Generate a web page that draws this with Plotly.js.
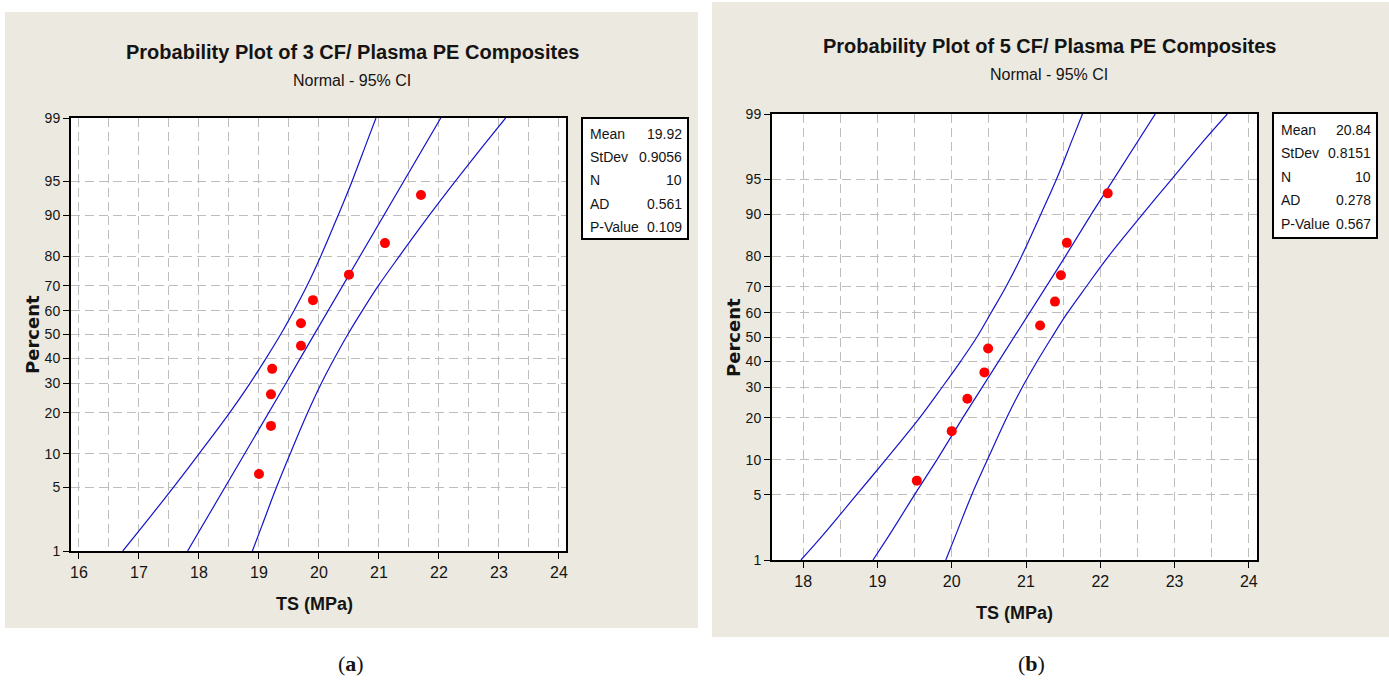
<!DOCTYPE html>
<html>
<head>
<meta charset="utf-8">
<script src="https://cdn.plot.ly/plotly-3.0.1.min.js"></script>
<style>
html,body{margin:0;padding:0;background:#fff;}
#chart{width:1389px;height:680px;}
</style>
</head>
<body>
<div id="chart"></div>
<script>
// ---------- data ----------
const pctTicks = [1, 5, 10, 20, 30, 40, 50, 60, 70, 80, 90, 95, 99];
const pointPct = [6.7, 16.3, 26.0, 35.6, 45.2, 54.8, 64.4, 74.0, 83.7, 93.3];

const aTS = [19.0, 19.2, 19.2, 19.22, 19.7, 19.7, 19.9, 20.5, 21.1, 21.7];
const bTS = [19.53, 20.0, 20.21, 20.44, 20.49, 21.19, 21.39, 21.47, 21.55, 22.1];

const bandPct = [1, 2, 5, 10, 20, 30, 40, 50, 60, 70, 80, 90, 95, 98, 99];
const aFit   = [17.81, 18.06, 18.43, 18.76, 19.16, 19.45, 19.69, 19.92, 20.15, 20.39, 20.68, 21.08, 21.41, 21.78, 22.03];
const aLower = [16.73, 17.07, 17.57, 18.00, 18.51, 18.85, 19.12, 19.36, 19.58, 19.80, 20.03, 20.32, 20.55, 20.79, 20.95];
const aUpper = [18.89, 19.05, 19.29, 19.52, 19.81, 20.04, 20.26, 20.48, 20.72, 20.99, 21.34, 21.84, 22.27, 22.77, 23.11];
const bFit   = [18.94, 19.17, 19.50, 19.80, 20.15, 20.41, 20.63, 20.84, 21.05, 21.27, 21.53, 21.88, 22.18, 22.51, 22.74];
const bLower = [17.97, 18.28, 18.72, 19.11, 19.57, 19.87, 20.12, 20.34, 20.53, 20.73, 20.94, 21.20, 21.41, 21.62, 21.76];
const bUpper = [19.92, 20.06, 20.27, 20.48, 20.74, 20.95, 21.15, 21.35, 21.56, 21.81, 22.11, 22.57, 22.96, 23.40, 23.71];

const statLabels = ["Mean", "StDev", "N", "AD", "P-Value"];
const aStats = ["19.92", "0.9056", "10", "0.561", "0.109"];
const bStats = ["20.84", "0.8151", "10", "0.278", "0.567"];

const aTitle = "Probability Plot of 3 CF/ Plasma PE Composites";
const bTitle = "Probability Plot of 5 CF/ Plasma PE Composites";
const subTitle = "Normal - 95% CI";
const xTitle = "TS (MPa)";
const yTitle = "Percent";

// ---------- normal probability scale ----------
function probit(p) {
  const a = [-3.969683028665376e+01, 2.209460984245205e+02, -2.759285104469687e+02, 1.383577518672690e+02, -3.066479806614716e+01, 2.506628277459239e+00];
  const b = [-5.447609879822406e+01, 1.615858368580409e+02, -1.556989798598866e+02, 6.680131188771972e+01, -1.328068155288572e+01];
  const c = [-7.784894002430293e-03, -3.223964580411365e-01, -2.400758277161838e+00, -2.549671010115819e+00, 4.374664141464968e+00, 2.938163982698783e+00];
  const d = [7.784695709041462e-03, 3.224671290700398e-01, 2.445134137142996e+00, 3.754408661907416e+00];
  const pl = 0.02425, ph = 1 - pl;
  let q, r;
  if (p < pl) {
    q = Math.sqrt(-2 * Math.log(p));
    return (((((c[0]*q+c[1])*q+c[2])*q+c[3])*q+c[4])*q+c[5]) / ((((d[0]*q+d[1])*q+d[2])*q+d[3])*q+1);
  } else if (p <= ph) {
    q = p - 0.5; r = q*q;
    return (((((a[0]*r+a[1])*r+a[2])*r+a[3])*r+a[4])*r+a[5])*q / (((((b[0]*r+b[1])*r+b[2])*r+b[3])*r+b[4])*r+1);
  } else {
    q = Math.sqrt(-2 * Math.log(1 - p));
    return -(((((c[0]*q+c[1])*q+c[2])*q+c[3])*q+c[4])*q+c[5]) / ((((d[0]*q+d[1])*q+d[2])*q+d[3])*q+1);
  }
}
const z = arr => arr.map(p => probit(p / 100));

// ---------- geometry helpers ----------
const W = 1389, H = 680;
const px = x => x / W;
const py = y => 1 - y / H;

const BLUE = '#1414cc';
const RED = '#ff0000';
const GRID = '#bdbdbd';
const BEIGE = '#ece9e0';
const FONT = 'Liberation Sans, Arial, sans-serif';
const TXT = '#141414';

function lineTrace(x, y, xa, ya, spline) {
  return {x: x, y: z(y), xaxis: xa, yaxis: ya, mode: 'lines', type: 'scatter',
    line: {color: BLUE, width: 1.2, shape: spline ? 'spline' : 'linear', smoothing: 1},
    hoverinfo: 'skip', showlegend: false};
}
function pointTrace(x, xa, ya) {
  return {x: x, y: z(pointPct), xaxis: xa, yaxis: ya, mode: 'markers', type: 'scatter',
    marker: {color: RED, size: 10, line: {width: 0}}, showlegend: false};
}

const data = [
  lineTrace(aLower, bandPct, 'x', 'y', true),
  lineTrace(aFit, bandPct, 'x', 'y', false),
  lineTrace(aUpper, bandPct, 'x', 'y', true),
  pointTrace(aTS, 'x', 'y'),
  lineTrace(bLower, bandPct, 'x2', 'y2', true),
  lineTrace(bFit, bandPct, 'x2', 'y2', false),
  lineTrace(bUpper, bandPct, 'x2', 'y2', true),
  pointTrace(bTS, 'x2', 'y2')
];

const zTicks = z(pctTicks);
const zr = [probit(0.01), probit(0.99)];
const DASH = '9px,5px';

function xAxis(domain, range, anchor) {
  return {domain: domain, range: range, anchor: anchor,
    tickmode: 'linear', tick0: 0, dtick: 1,
    showgrid: true, gridcolor: GRID, griddash: DASH, gridwidth: 1,
    minor: {dtick: 0.5, tick0: 0, showgrid: true, gridcolor: GRID, griddash: DASH, gridwidth: 1, ticks: ''},
    ticks: 'outside', ticklen: 6, tickcolor: '#000', tickwidth: 1,
    showline: true, linecolor: '#000', linewidth: 2, mirror: true,
    zeroline: false, tickfont: {family: FONT, size: 16, color: TXT},
    title: {text: ''}, fixedrange: true};
}
function yAxis(domain, anchor) {
  return {domain: domain, range: zr, anchor: anchor,
    tickmode: 'array', tickvals: zTicks, ticktext: pctTicks.map(String),
    showgrid: true, gridcolor: GRID, griddash: DASH, gridwidth: 1,
    ticks: 'outside', ticklen: 6, tickcolor: '#000', tickwidth: 1,
    showline: true, linecolor: '#000', linewidth: 2, mirror: true,
    zeroline: false, tickfont: {family: FONT, size: 14, color: TXT},
    title: {text: ''}, fixedrange: true};
}

const shapes = [
  {type: 'rect', xref: 'paper', yref: 'paper', x0: px(5), x1: px(698), y0: py(628), y1: py(12), fillcolor: BEIGE, line: {width: 0}, layer: 'below'},
  {type: 'rect', xref: 'paper', yref: 'paper', x0: px(712), x1: px(1389), y0: py(637), y1: py(2), fillcolor: BEIGE, line: {width: 0}, layer: 'below'},
  {type: 'rect', xref: 'paper', yref: 'paper', x0: px(71), x1: px(566), y0: py(551), y1: py(118), fillcolor: '#fff', line: {width: 0}, layer: 'below'},
  {type: 'rect', xref: 'paper', yref: 'paper', x0: px(772), x1: px(1257), y0: py(560), y1: py(114), fillcolor: '#fff', line: {width: 0}, layer: 'below'},
  {type: 'rect', xref: 'paper', yref: 'paper', x0: px(582), x1: px(688), y0: py(239), y1: py(118), fillcolor: '#fff', line: {color: '#000', width: 2}, layer: 'above'},
  {type: 'rect', xref: 'paper', yref: 'paper', x0: px(1273), x1: px(1377), y0: py(238), y1: py(113), fillcolor: '#fff', line: {color: '#000', width: 2}, layer: 'above'}
];

function ann(text, x, y, opts) {
  return Object.assign({text: text, x: px(x), y: py(y), xref: 'paper', yref: 'paper',
    showarrow: false, xanchor: 'center', yanchor: 'middle',
    font: {family: FONT, size: 14, color: TXT}}, opts || {});
}

const annotations = [
  ann('<b>' + aTitle + '</b>', 352, 52, {font: {family: FONT, size: 20, color: TXT}}),
  ann(subTitle, 352, 80, {font: {family: FONT, size: 16, color: TXT}}),
  ann('<b>' + bTitle + '</b>', 1049, 46, {font: {family: FONT, size: 20, color: TXT}}),
  ann(subTitle, 1049, 74, {font: {family: FONT, size: 16, color: TXT}}),
  ann('<b>' + xTitle + '</b>', 314, 604, {font: {family: FONT, size: 18, color: TXT}}),
  ann('<b>' + xTitle + '</b>', 1014, 613, {font: {family: FONT, size: 18, color: TXT}}),
  ann('<b>' + yTitle + '</b>', 32, 335, {textangle: -90, font: {family: 'DejaVu Sans, sans-serif', size: 18, color: TXT}}),
  ann('<b>' + yTitle + '</b>', 733, 338, {textangle: -90, font: {family: 'DejaVu Sans, sans-serif', size: 18, color: TXT}}),
  ann('(<b>a</b>)', 351, 663, {font: {family: 'Liberation Serif, DejaVu Serif, serif', size: 22, color: TXT}}),
  ann('(<b>b</b>)', 1031, 663, {font: {family: 'Liberation Serif, DejaVu Serif, serif', size: 22, color: TXT}})
];

const aRows = [134, 157, 180, 204, 227];
const bRows = [130, 153, 177, 200, 224];
statLabels.forEach((lab, i) => {
  annotations.push(ann(lab, 588, aRows[i], {xanchor: 'left'}));
  annotations.push(ann(aStats[i], 684, aRows[i], {xanchor: 'right'}));
  annotations.push(ann(lab, 1279, bRows[i], {xanchor: 'left'}));
  annotations.push(ann(bStats[i], 1373, bRows[i], {xanchor: 'right'}));
});

const layout = {
  width: W, height: H,
  margin: {l: 0, r: 0, t: 0, b: 0, pad: 0},
  paper_bgcolor: '#ffffff',
  plot_bgcolor: 'rgba(0,0,0,0)',
  showlegend: false,
  xaxis: xAxis([px(71), px(566)], [15.867, 24.117], 'y'),
  yaxis: yAxis([py(551), py(118)], 'x'),
  xaxis2: xAxis([px(772), px(1257)], [17.58, 24.11], 'y2'),
  yaxis2: yAxis([py(560), py(114)], 'x2'),
  shapes: shapes,
  annotations: annotations
};

Plotly.newPlot('chart', data, layout, {staticPlot: true, displayModeBar: false});
</script>
</body>
</html>
